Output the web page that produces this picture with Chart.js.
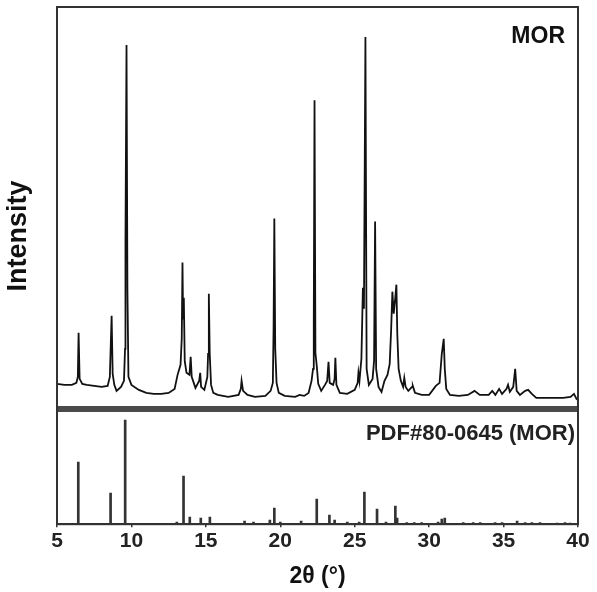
<!DOCTYPE html>
<html>
<head>
<meta charset="utf-8">
<script src="https://cdn.jsdelivr.net/npm/chart.js@4.4.1/dist/chart.umd.min.js"></script>
<style>
  html, body { margin: 0; padding: 0; background: #fff; }
  #wrap { width: 597px; height: 592px; position: relative; }
</style>
</head>
<body>
<div id="wrap"><canvas id="c" width="597" height="592"></canvas></div>
<script>
// ---- Data ----
const xTicks = [5, 10, 15, 20, 25, 30, 35, 40];

// Measured XRD pattern of MOR (2θ in degrees, intensity in arbitrary units)
const xrdTheta = [
  5.0, 5.5, 6.0, 6.3, 6.4, 6.45, 6.52, 6.7, 7.0, 7.5, 8.0, 8.4, 8.55, 8.6, 8.67, 8.74, 8.85,
  9.0, 9.3, 9.5, 9.57, 9.6, 9.67, 9.73, 9.8, 10.0, 10.5, 11.0, 11.5, 12.0, 12.5, 12.9,
  13.1, 13.3, 13.38, 13.43, 13.47, 13.52, 13.58, 13.7, 13.9, 13.98, 14.05, 14.3, 14.55, 14.62, 14.68, 14.9,
  15.1, 15.15, 15.2, 15.26, 15.35, 15.5, 15.8, 16.5, 17.2, 17.35, 17.4, 17.5, 17.8, 18.3, 19.0,
  19.35, 19.5, 19.55, 19.6, 19.66, 19.75, 19.9, 20.3, 21.0, 21.3, 21.6, 21.9,
  22.1, 22.2, 22.25, 22.3, 22.36, 22.45, 22.55, 22.75, 23.0, 23.15, 23.24, 23.32, 23.55, 23.65, 23.7, 23.77,
  24.0, 24.5, 25.0, 25.2, 25.25, 25.32, 25.45, 25.55, 25.62, 25.72, 25.8, 25.95,
  26.2, 26.3, 26.37, 26.44, 26.6, 26.8, 27.0, 27.2, 27.35, 27.45, 27.53, 27.62, 27.72, 27.8, 27.86, 27.95,
  28.1, 28.25, 28.33, 28.42, 28.6, 28.85, 28.9, 29.05, 29.5, 30.0, 30.45, 30.7, 30.85, 30.98, 31.05, 31.15,
  31.4, 32.0, 32.6, 33.05, 33.4, 34.0, 34.24, 34.45, 34.7, 34.9, 35.2, 35.3, 35.42, 35.65, 35.78, 35.88,
  36.1, 36.45, 36.65, 36.9, 37.2, 38.0, 39.0, 39.5, 39.73, 39.9, 40.0
];
const xrdIntensity = [
  25, 24, 24, 26, 32, 76, 30, 25, 24, 23, 22, 23, 32, 58, 93, 35, 24,
  18, 22, 28, 60, 168, 363, 120, 32, 24, 19, 16, 15, 15, 16, 20,
  34, 44, 70, 146, 90, 111, 48, 36, 34, 52, 32, 21, 28, 36, 22, 19,
  32, 55, 115, 55, 24, 16, 14, 12, 14, 20, 28, 18, 14, 12, 13,
  18, 26, 81, 190, 60, 26, 16, 13, 12, 14, 13, 16,
  28, 40, 90, 308, 56, 43, 25, 18, 24, 28, 47, 26, 24, 30, 51, 24,
  16, 15, 19, 26, 36, 28, 50, 121, 100, 371, 40, 24,
  30, 48, 187, 40, 22, 17, 28, 34, 45, 80, 117, 95, 110, 124, 75, 40,
  28, 22, 31, 22, 18, 22, 23, 16, 14, 14, 23, 26, 55, 70, 40, 20,
  14, 13, 14, 18, 14, 14, 18, 14, 20, 15, 20, 24, 17, 22, 40, 18,
  14, 18, 19, 15, 11, 11, 11, 12, 15, 10, 9
];

// Reference pattern PDF#80-0645 (MOR): stick positions and heights
const pdfTheta = [
  6.43, 8.6, 9.58, 13.05, 13.5, 13.92, 14.66, 15.27, 17.6, 18.2, 19.3, 19.6, 20.0, 21.4,
  22.45, 23.3, 23.65, 24.5, 25.3, 25.65, 26.5, 27.1, 27.73, 27.85, 28.5, 29.0, 29.5,
  30.6, 30.85, 31.05, 32.29, 32.96, 33.43, 34.43, 34.9, 35.91, 36.45, 36.9, 37.45, 38.6, 39.13, 39.47
];
const pdfIntensity = [
  62, 31, 104, 2, 48, 7, 6, 7, 3, 2, 4, 16, 2, 3,
  25, 9, 4, 2, 2, 32, 15, 2, 18, 6, 1.5, 1.5, 1.5,
  2, 5, 6, 1.5, 1.5, 1.5, 1.5, 1.5, 3, 1.5, 1.5, 1.5, 1, 1.5, 1
];

const topLabel = 'MOR';
const bottomLabel = 'PDF#80-0645 (MOR)';
const yTitle = 'Intensity';
const xTitle = '2θ (°)';

// ---- Build datasets ----
const xrdPoints = xrdTheta.map((t, i) => ({ x: t, y: xrdIntensity[i] }));
const pdfPoints = pdfTheta.map((t, i) => ({ x: t, y: pdfIntensity[i] }));

const FONT = "'Liberation Sans', Arial, Helvetica, sans-serif";

const decor = {
  id: 'decor',
  afterDatasetsDraw(chart) {
    const { ctx, chartArea: a, scales } = chart;
    ctx.save();
    // divider between panels at value 0 of the top-panel scale
    const yDiv = scales.y.getPixelForValue(0);
    ctx.strokeStyle = '#4a4a4a';
    ctx.lineWidth = 6;
    ctx.beginPath();
    ctx.moveTo(a.left, yDiv);
    ctx.lineTo(a.right, yDiv);
    ctx.stroke();
    // frame
    ctx.strokeStyle = '#333';
    ctx.lineWidth = 2;
    ctx.strokeRect(a.left, a.top, a.right - a.left, a.bottom - a.top);
    // panel labels
    ctx.fillStyle = '#111';
    ctx.textAlign = 'right';
    ctx.textBaseline = 'alphabetic';
    ctx.font = 'bold 23px ' + FONT;
    ctx.fillText(topLabel, a.right - 13, a.top + 36);
    ctx.font = 'bold 22px ' + FONT;
    ctx.fillStyle = '#222';
    ctx.fillText(bottomLabel, a.right - 3, yDiv + 31);
    // y title
    ctx.save();
    ctx.translate(26, 236);
    ctx.rotate(-Math.PI / 2);
    ctx.textAlign = 'center';
    ctx.textBaseline = 'alphabetic';
    ctx.font = 'bold 27px ' + FONT;
    ctx.fillStyle = '#111';
    ctx.fillText(yTitle, 0, 0);
    ctx.restore();
    ctx.restore();
  }
};

new Chart(document.getElementById('c'), {
  type: 'bar',
  data: {
    datasets: [
      {
        type: 'line',
        label: topLabel,
        data: xrdPoints,
        yAxisID: 'y',
        borderColor: '#111',
        borderWidth: 1.8,
        pointRadius: 0,
        tension: 0,
        fill: false
      },
      {
        type: 'bar',
        label: bottomLabel,
        data: pdfPoints,
        yAxisID: 'y2',
        backgroundColor: '#333',
        borderWidth: 0,
        barThickness: 2,
        grouped: false
      }
    ]
  },
  options: {
    responsive: false,
    animation: false,
    devicePixelRatio: 1,
    layout: { padding: { left: 57, right: 19, top: 7, bottom: 0 } },
    plugins: {
      legend: { display: false },
      tooltip: { enabled: false }
    },
    scales: {
      x: {
        type: 'linear',
        min: 5,
        max: 40,
        offset: false,
        afterBuildTicks(scale) { scale.ticks = xTicks.map(v => ({ value: v })); },
        ticks: {
          font: { family: FONT, size: 21, weight: 'bold' },
          color: '#222',
          padding: 1,
          maxRotation: 0,
          autoSkip: false
        },
        grid: {
          offset: false,
          drawOnChartArea: false,
          drawTicks: true,
          tickLength: 3,
          color: '#333',
          lineWidth: 1.5
        },
        border: { display: true, color: '#333', width: 2 },
        title: {
          display: true,
          text: xTitle,
          font: { family: FONT, size: 23, weight: 'bold' },
          color: '#111',
          padding: { top: 8, bottom: 2 }
        }
      },
      y: {
        display: false,
        min: -115,
        max: 401
      },
      y2: {
        display: false,
        min: 0,
        max: 516
      }
    }
  },
  plugins: [decor]
});
</script>
</body>
</html>
